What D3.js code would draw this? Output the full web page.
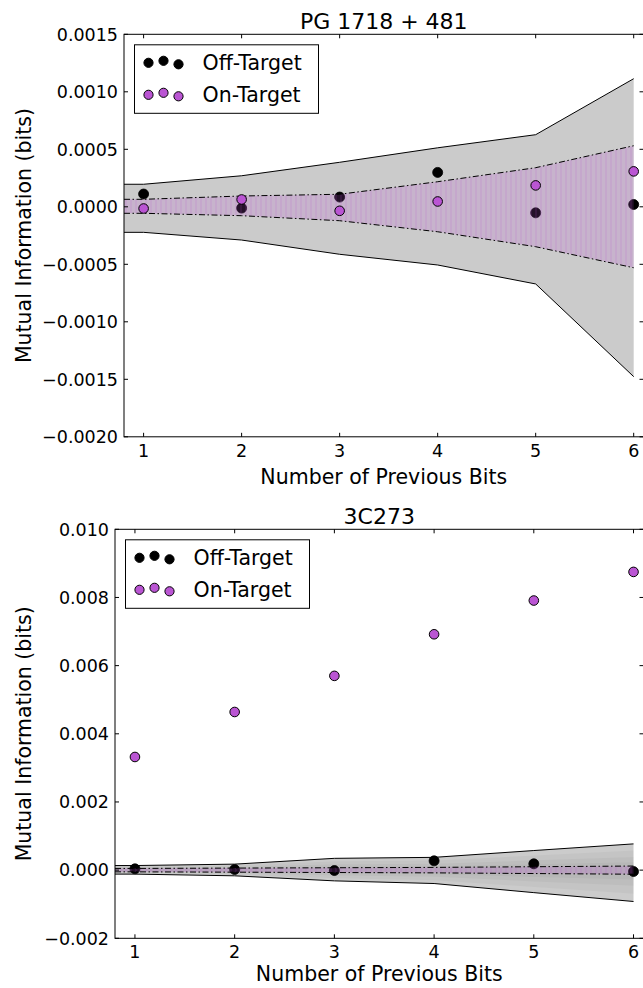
<!DOCTYPE html>
<html>
<head>
<meta charset="utf-8">
<script src="https://cdn.jsdelivr.net/npm/d3@7"></script>
<style>
  html, body { margin: 0; padding: 0; background: #fff; }
  svg { display: block; }
  text { font-family: "DejaVu Sans", sans-serif; fill: #000; }
</style>
</head>
<body>
<svg id="chart" width="643" height="988"></svg>
<script>
// ---------- data ----------
const bits = [1, 2, 3, 4, 5, 6];
const seriesNames = ["Off-Target", "On-Target"];

// PG 1718 + 481
const pgOff   = [0.000111, -0.0000113, 0.0000846, 0.000299, -0.0000524, 0.00002];
const pgOn    = [-0.0000148, 0.0000637, -0.0000349, 0.0000463, 0.000186, 0.000308];
const pgOffHi = [0.000196, 0.000270, 0.000387, 0.000513, 0.000627, 0.001114];
const pgOffLo = [-0.000222, -0.000289, -0.000413, -0.000506, -0.000671, -0.001477];
const pgOnHi  = [0.0000652, 0.0000939, 0.000109, 0.000218, 0.00034, 0.000531];
const pgOnLo  = [-0.0000565, -0.0000774, -0.000121, -0.000217, -0.000347, -0.00053];
const pgYTicks = [-0.0020, -0.0015, -0.0010, -0.0005, 0.0000, 0.0005, 0.0010, 0.0015];

// 3C273
const c3Off   = [0.000038, 0.0000176, -0.0000117, 0.000273, 0.000185, -0.000041];
const c3On    = [0.00332, 0.00464, 0.00570, 0.00692, 0.00791, 0.00875];
const c3OffHi = [0.000135, 0.000176, 0.000346, 0.000375, 0.000575, 0.00077];
const c3OffLo = [-0.000117, -0.000167, -0.000315, -0.000393, -0.00066, -0.00092];
const c3OnHi  = [0.00005, 0.00006, 0.00007, 0.00008, 0.0001, 0.00012];
const c3OnLo  = [-0.00005, -0.00006, -0.00007, -0.00008, -0.0001, -0.00012];
const c3YTicks = [-0.002, 0.000, 0.002, 0.004, 0.006, 0.008, 0.010];

const xDomain = [0.8, 6.1];

// ---------- drawing ----------
const svg = d3.select("#chart");
const PURPLE = "#BA55D3";
const fmtMinus = s => s.replace("-", "\u2212");

// faint vertical stripe texture for the on-target band
const defs = svg.append("defs");
const pat = defs.append("pattern").attr("id", "stripes")
  .attr("patternUnits", "userSpaceOnUse").attr("width", 5).attr("height", 10);
pat.append("rect").attr("x", 0).attr("y", 0).attr("width", 2).attr("height", 10)
  .attr("fill", PURPLE).attr("opacity", 0.12);

function drawPanel(cfg) {
  const { left, right, top, bottom, yDomain, yTicks, yFmt, title, xlabelDy,
          off, on, offHi, offLo, onHi, onLo, shade } = cfg;
  const x = d3.scaleLinear().domain(xDomain).range([left, right]);
  const y = d3.scaleLinear().domain(yDomain).range([bottom, top]);
  const g = svg.append("g");
  const clipId = "clip" + Math.round(top);
  g.append("clipPath").attr("id", clipId)
    .append("rect").attr("x", left).attr("y", top)
    .attr("width", right - left).attr("height", bottom - top);
  const plot = g.append("g").attr("clip-path", `url(#${clipId})`);

  // band rows, extended flat to left edge of axis
  const rows = (hi, lo) => {
    const r = bits.map((b, i) => ({ x: b, hi: hi[i], lo: lo[i] }));
    r.unshift({ x: xDomain[0], hi: hi[0], lo: lo[0] });
    return r;
  };
  const area = d3.area().x(d => x(d.x)).y0(d => y(d.lo)).y1(d => y(d.hi));
  const lineHi = d3.line().x(d => x(d.x)).y(d => y(d.hi));
  const lineLo = d3.line().x(d => x(d.x)).y(d => y(d.lo));

  const offRows = rows(offHi, offLo);
  plot.append("path").attr("d", area(offRows)).attr("fill", "#cbcbcb");
  if (shade) {
    [0.75, 0.5, 0.3].forEach(f => {
      const sr = offRows.map(d => ({ x: d.x, hi: d.hi * f, lo: d.lo * f }));
      plot.append("path").attr("d", area(sr)).attr("fill", "#000").attr("opacity", 0.03);
    });
  }
  plot.append("path").attr("d", lineHi(offRows)).attr("fill", "none").attr("stroke", "#000").attr("stroke-width", 1);
  plot.append("path").attr("d", lineLo(offRows)).attr("fill", "none").attr("stroke", "#000").attr("stroke-width", 1);

  // off-target points
  plot.selectAll(".off").data(bits).enter().append("circle")
    .attr("cx", d => x(d)).attr("cy", (d, i) => y(off[i])).attr("r", 5)
    .attr("fill", "#000").attr("stroke", "#000").attr("stroke-width", 0.8);

  // on-target band
  const onRows = rows(onHi, onLo);
  plot.append("path").attr("d", area(onRows)).attr("fill", PURPLE).attr("opacity", 0.2);
  plot.append("path").attr("d", area(onRows)).attr("fill", "url(#stripes)");
  [lineHi, lineLo].forEach(l => {
    plot.append("path").attr("d", l(onRows)).attr("fill", "none")
      .attr("stroke", "#000").attr("stroke-width", 1)
      .attr("stroke-dasharray", "6,2.5,1.5,2.5");
  });

  // on-target points
  plot.selectAll(".on").data(bits).enter().append("circle")
    .attr("cx", d => x(d)).attr("cy", (d, i) => y(on[i])).attr("r", 4.8)
    .attr("fill", PURPLE).attr("stroke", "#000").attr("stroke-width", 1);

  // spines
  g.append("rect").attr("x", left).attr("y", top)
    .attr("width", right - left).attr("height", bottom - top)
    .attr("fill", "none").attr("stroke", "#000").attr("stroke-width", 1);

  // ticks (inward, all four sides)
  const tl = 4;
  bits.forEach(b => {
    g.append("line").attr("x1", x(b)).attr("x2", x(b)).attr("y1", bottom).attr("y2", bottom - tl).attr("stroke", "#000");
    g.append("line").attr("x1", x(b)).attr("x2", x(b)).attr("y1", top).attr("y2", top + tl).attr("stroke", "#000");
    g.append("text").attr("x", x(b)).attr("y", bottom + 20).attr("text-anchor", "middle")
      .attr("font-size", 17.5).text(b);
  });
  yTicks.forEach(t => {
    g.append("line").attr("x1", left).attr("x2", left + tl).attr("y1", y(t)).attr("y2", y(t)).attr("stroke", "#000");
    g.append("line").attr("x1", right).attr("x2", right - tl).attr("y1", y(t)).attr("y2", y(t)).attr("stroke", "#000");
    g.append("text").attr("x", left - 6).attr("y", y(t)).attr("dy", "0.36em")
      .attr("text-anchor", "end").attr("font-size", 17.5).text(fmtMinus(yFmt(t)));
  });

  // labels
  g.append("text").attr("x", (left + right) / 2).attr("y", top - 5)
    .attr("text-anchor", "middle").attr("font-size", 22).text(title);
  g.append("text").attr("x", (left + right) / 2).attr("y", bottom + xlabelDy)
    .attr("text-anchor", "middle").attr("font-size", 20.5).text("Number of Previous Bits");
  g.append("text").attr("transform", `translate(31,${(top + bottom) / 2}) rotate(-90)`)
    .attr("text-anchor", "middle").attr("font-size", 20.5).text("Mutual Information (bits)");

  // legend
  const lx = left + 10.5, ly = top + 10.5, lw = 184, lh = 68.5;
  const lg = g.append("g");
  lg.append("rect").attr("x", lx).attr("y", ly).attr("width", lw).attr("height", lh)
    .attr("fill", "#fff").attr("stroke", "#000").attr("stroke-width", 1);
  const mx = [14, 29, 44], my = [0, -2, 1.5];
  seriesNames.forEach((name, k) => {
    const rowY = ly + 18 + k * 32;
    mx.forEach((dx, j) => {
      lg.append("circle").attr("cx", lx + dx).attr("cy", rowY + my[j]).attr("r", 4.6)
        .attr("fill", k === 0 ? "#000" : PURPLE).attr("stroke", "#000").attr("stroke-width", 1);
    });
    lg.append("text").attr("x", lx + 68).attr("y", rowY + 7.5)
      .attr("font-size", 20.5).text(name);
  });
}

drawPanel({
  left: 124, right: 643.5, top: 34.3, bottom: 436.8, xlabelDy: 47,
  yDomain: [-0.002, 0.0015], yTicks: pgYTicks, yFmt: d3.format(".4f"),
  title: "PG 1718 + 481",
  off: pgOff, on: pgOn, offHi: pgOffHi, offLo: pgOffLo, onHi: pgOnHi, onLo: pgOnLo,
  shade: false
});
drawPanel({
  left: 115, right: 643.5, top: 529.3, bottom: 938.3, xlabelDy: 43,
  yDomain: [-0.002, 0.010], yTicks: c3YTicks, yFmt: d3.format(".3f"),
  title: "3C273",
  off: c3Off, on: c3On, offHi: c3OffHi, offLo: c3OffLo, onHi: c3OnHi, onLo: c3OnLo,
  shade: true
});
</script>
</body>
</html>
